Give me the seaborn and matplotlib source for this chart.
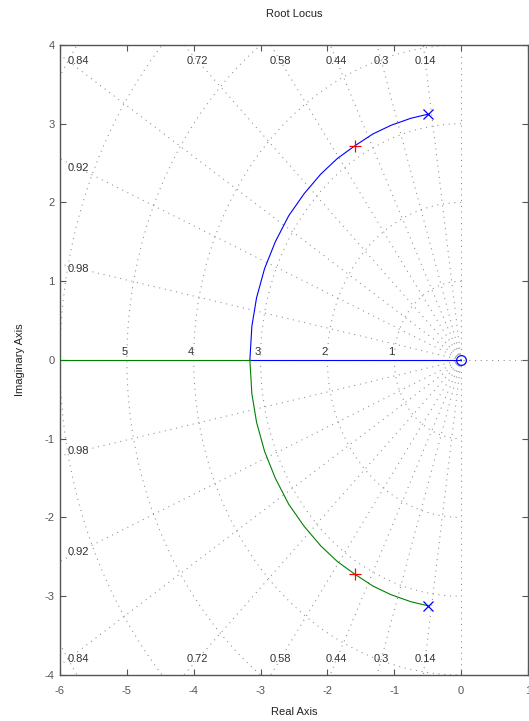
import numpy as np
import pandas as pd
import seaborn as sns
import matplotlib.pyplot as plt

# root locus branch (upper half)
locus_re = [-0.50, -0.75, -1.05, -1.32, -1.59, -1.85, -2.10, -2.35, -2.58, -2.78, -2.94, -3.06, -3.13, -3.16]
locus_im = [3.12, 3.07, 2.98, 2.87, 2.72, 2.56, 2.36, 2.11, 1.83, 1.50, 1.16, 0.79, 0.43, 0.00]
# real axis parts after breakaway
blue_axis_re = [-3.16, 0.0]
green_axis_re = [-3.16, -10.0]

poles_re = [-0.50, -0.50]
poles_im = [3.12, -3.12]
zeros_re = [0.0]
zeros_im = [0.0]
gain_re = [-1.59, -1.59]
gain_im = [2.72, -2.72]

# sgrid values
zetas = [0.14, 0.3, 0.44, 0.58, 0.72, 0.84, 0.92, 0.98]
zeta_labels = ['0.14', '0.3', '0.44', '0.58', '0.72', '0.84', '0.92', '0.98']
wns = [1, 2, 3, 4, 5, 6, 7]
wn_labels = ['1', '2', '3', '4', '5']

sns.set_style("white")
plt.rcParams['axes.unicode_minus'] = False
plt.rcParams['font.family'] = ['Liberation Sans', 'DejaVu Sans']

fig = plt.figure(figsize=(5.29, 7.21), dpi=100)
ax = fig.add_axes([0.1134, 0.0638, 0.8847, 0.8738])

grid_kw = dict(color='#8a8a8a', lw=0.75, linestyle=(0, (1, 4.5)), zorder=1)
R = 12
for z in zetas:
    k = np.sqrt(1 - z**2) / z
    xe = -R / np.sqrt(1 + k**2)
    ax.plot([0, xe], [0, -xe * k], **grid_kw)
    ax.plot([0, xe], [0, xe * k], **grid_kw)
th = np.linspace(np.pi / 2, 3 * np.pi / 2, 300)
for w in wns:
    ax.plot(w * np.cos(th), w * np.sin(th), **grid_kw)
ax.plot([0, 0], [-5, 5], **grid_kw)
ax.plot([-10, 2], [0, 0], **grid_kw)

# grid labels
for z, lab in zip(zetas, zeta_labels):
    k = np.sqrt(1 - z**2) / z
    xl, yl = -3.8 / k, 3.8
    if xl < -5.9:
        xl, yl = -5.72, 5.72 * k
    xl = max(xl, -5.72)
    for s in (1, -1):
        ax.text(xl, s * yl, lab, ha='center', va='center', fontsize=8, color='#333333', zorder=2)
for w, lab in zip(wns, wn_labels):
    ax.text(-w - 0.04, 0.04, lab, ha='center', va='bottom', fontsize=8, color='#333333', zorder=2)

df_up = pd.DataFrame({'re': locus_re, 'im': locus_im})
df_lo = pd.DataFrame({'re': locus_re, 'im': [-v for v in locus_im]})
sns.lineplot(data=df_up, x='re', y='im', sort=False, estimator=None, color='#0000ff', lw=0.8, ax=ax, zorder=3)
sns.lineplot(x=blue_axis_re, y=[0, 0], sort=False, estimator=None, color='#0000ff', lw=0.8, ax=ax, zorder=3)
sns.lineplot(data=df_lo, x='re', y='im', sort=False, estimator=None, color='#008000', lw=0.8, ax=ax, zorder=3)
sns.lineplot(x=green_axis_re, y=[0, 0], sort=False, estimator=None, color='#008000', lw=0.8, ax=ax, zorder=3)

ax.plot(poles_re, poles_im, 'x', color='#0000ff', ms=6.5, mew=0.9, zorder=4)
ax.plot(zeros_re, zeros_im, 'o', mfc='none', mec='#0000ff', ms=7, mew=0.9, zorder=4)
ax.plot(gain_re, gain_im, '+', color='#ff0000', ms=8, mew=0.9, zorder=4)

ax.set_xlim(-6, 1)
ax.set_ylim(-4, 4)
ax.set_xticks(range(-6, 2))
ax.set_yticks(range(-4, 5))
ax.tick_params(direction='in', length=4, width=0.8, color='#555555', labelcolor='#555555',
               labelsize=8, top=True, right=True, bottom=True, left=True)
ax.tick_params(axis='x', pad=8)
ax.tick_params(axis='y', pad=4)
for sp in ax.spines.values():
    sp.set_color('#555555')
    sp.set_linewidth(1)

ax.set_xlabel('Real Axis', fontsize=8, color='#222222', labelpad=8)
ax.set_ylabel('Imaginary Axis', fontsize=8, color='#222222', labelpad=14)
ax.set_title('Root Locus', fontsize=8, color='#222222', pad=20)

fig.savefig('out.png', dpi=100)
